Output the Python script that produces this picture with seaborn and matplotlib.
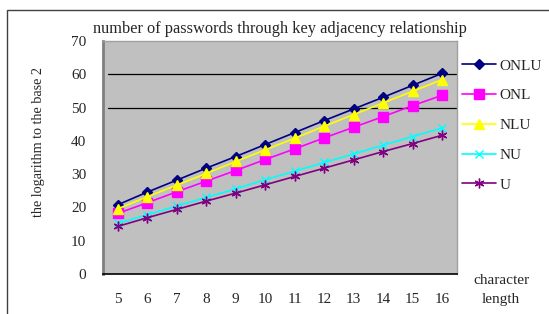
import pandas as pd
import matplotlib
matplotlib.use("Agg")
import matplotlib.pyplot as plt
from matplotlib.patches import Rectangle
import seaborn as sns

lengths = [5, 6, 7, 8, 9, 10, 11, 12, 13, 14, 15, 16]
onlu = [20.8, 24.6, 28.2, 31.8, 35.3, 38.9, 42.5, 46.1, 49.6, 53.1, 56.7, 60.3]
onl = [18.2, 21.4, 24.7, 27.9, 31.1, 34.4, 37.6, 40.9, 44.1, 47.3, 50.6, 53.7]
nlu = [19.6, 23.2, 26.7, 30.2, 33.8, 37.3, 40.8, 44.4, 47.9, 51.4, 54.9, 58.4]
nu = [15.2, 17.8, 20.4, 23.0, 25.6, 28.3, 30.9, 33.5, 36.1, 38.7, 41.3, 43.9]
u = [14.3, 16.9, 19.4, 21.9, 24.3, 26.8, 29.3, 31.8, 34.3, 36.8, 39.2, 41.7]

series = ["ONLU", "ONL", "NLU", "NU", "U"]
colors = ["#000080", "#FF00FF", "#FFFF00", "#00FFFF", "#800080"]
markers = ["D", "s", "^", "x", (6, 2, 0)]
sizes = [5, 6.5, 7, 6, 7]
y_ticks = [0, 10, 20, 30, 40, 50, 60, 70]
grid_lines = [50, 60]

rows = []
for name, vals in zip(series, [onlu, onl, nlu, nu, u]):
    for n, v in zip(lengths, vals):
        rows.append({"length": n, "value": v, "series": name})
df = pd.DataFrame(rows)

sns.set_style("white")
plt.rcParams["font.family"] = ["Liberation Serif", "DejaVu Serif"]

fig = plt.figure(figsize=(5.49, 3.14), dpi=100)
ax = fig.add_axes([103 / 549, 40 / 314, 354 / 549, 233 / 314])
ax.set_facecolor("#C0C0C0")

# only the upper two gridlines show in the original
for y in grid_lines:
    ax.axhline(y, xmin=0.015, color="black", lw=0.9, zorder=1)

for name, col, mk, ms in zip(series, colors, markers, sizes):
    sub = df[df["series"] == name]
    sns.lineplot(data=sub, x="length", y="value", color=col, marker=mk,
                 markersize=ms, markeredgecolor=col, markeredgewidth=1.0,
                 lw=1.2, label=name, ax=ax, zorder=3)

ax.set_xlim(4.5, 16.5)
ax.set_ylim(0, 70)
ax.set_xticks(lengths)
ax.set_xticks([x + 0.5 for x in lengths[:-1]], minor=True)
ax.set_yticks(y_ticks)
ax.tick_params(axis="x", which="major", length=0, pad=14, labelsize=11)
ax.tick_params(axis="x", which="minor", length=4, width=0.8, color="#808080",
               direction="out")
ax.tick_params(axis="y", length=0, pad=12, labelsize=11)
ax.set_xlabel("")
ax.set_ylabel("")

for side in ["top", "right"]:
    ax.spines[side].set_color("#A0A0A0")
    ax.spines[side].set_linewidth(1.0)
ax.spines["left"].set_color("#808080")
ax.spines["left"].set_linewidth(2.0)
ax.spines["bottom"].set_color("black")
ax.spines["bottom"].set_linewidth(1.2)

ax.legend(loc="upper left", bbox_to_anchor=(462 / 549, 1 - 59 / 314),
          bbox_transform=fig.transFigure, frameon=False, fontsize=11,
          handlelength=2.2, handletextpad=0.25, labelspacing=1.05,
          borderaxespad=0, borderpad=0)

fig.text(280 / 549, 1 - 29 / 314,
         "number of passwords through key adjacency relationship",
         ha="center", va="center", fontsize=11.8)
fig.text(39 / 549, 1 - 142 / 314, "the logarithm to the base 2",
         rotation=90, ha="center", va="center", fontsize=10.2)
fig.text(501 / 549, 1 - 280 / 314, "character", ha="center", va="center",
         fontsize=11)
fig.text(501 / 549, 1 - 300 / 314, "length", ha="center", va="center",
         fontsize=11)

fig.patches.append(Rectangle((7 / 549, -0.1), 1.2, 0.1 + 1 - 10 / 314,
                             transform=fig.transFigure, fill=False,
                             edgecolor="#404040", lw=1.0))

fig.savefig("out.png", dpi=100)
